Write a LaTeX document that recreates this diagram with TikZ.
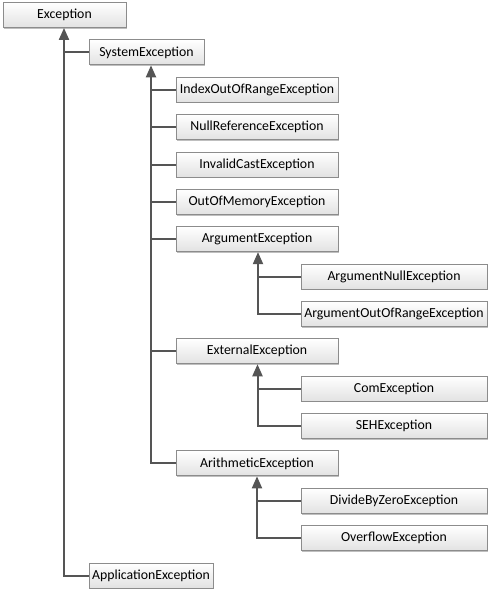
\documentclass[tikz,border=0pt]{standalone}
\usepackage{fontspec}
\setmainfont{Carlito}
\usetikzlibrary{arrows.meta,shadows}
\definecolor{lineclr}{HTML}{555555}
\definecolor{boxborder}{HTML}{8C8C8C}
\definecolor{boxbot}{HTML}{E2E2E2}
\begin{document}
\begin{tikzpicture}[x=1pt,y=-1pt,
  exbox/.style={draw=boxborder, line width=0.9pt, top color=white, bottom color=boxbot,
    minimum height=25pt, inner sep=0pt, font=\fontsize{13.8pt}{16pt}\selectfont,
    drop shadow={shadow xshift=1.2pt, shadow yshift=-1.2pt, opacity=0.25, fill=black}},
  lvlA/.style={exbox, minimum width=162pt},
  lvlB/.style={exbox, minimum width=186pt},
  conn/.style={draw=lineclr, line width=2pt},
  arr/.style={conn, -{Triangle[length=12pt,width=10pt]}}]
\useasboundingbox[fill=white] (0,0) rectangle (490,589);
% nodes
\node[exbox, minimum width=123pt] (exc) at (64.5,15) {Exception};
\node[exbox, minimum width=115pt] (sys) at (146.5,52.4) {SystemException};
\node[lvlA] (idx) at (257,89.7) {IndexOutOfRangeException};
\node[lvlA] (nul) at (257,127.1) {NullReferenceException};
\node[lvlA] (inv) at (257,164.5) {InvalidCastException};
\node[lvlA] (oom) at (257,201.9) {OutOfMemoryException};
\node[lvlA] (arg) at (257,239.2) {ArgumentException};
\node[lvlB] (argn) at (394,276.6) {ArgumentNullException};
\node[lvlB] (argr) at (394,314) {ArgumentOutOfRangeException};
\node[lvlA] (ext) at (257,351.3) {ExternalException};
\node[lvlB] (com) at (394,388.7) {ComException};
\node[lvlB] (seh) at (394,426.1) {SEHException};
\node[lvlA] (ari) at (257,463.4) {ArithmeticException};
\node[lvlB] (div) at (394,500.8) {DivideByZeroException};
\node[lvlB] (ovf) at (394,538.2) {OverflowException};
\node[exbox, minimum width=124pt] (app) at (151,575.5) {ApplicationException};
% anchor coordinates for the vertical trunks
\coordinate (excx) at ([xshift=-0.5pt]exc.south);
\coordinate (sysx) at ([xshift=4.5pt]sys.south);
\coordinate (argx) at ([xshift=1pt]arg.south);
\coordinate (extx) at ([xshift=0.5pt]ext.south);
\coordinate (arix) at ([xshift=0pt]ari.south);
% Exception trunk
\draw[arr] (app.west) -| (excx);
\draw[conn] (sys.west) -- (sys.west -| excx);
% SystemException trunk
\draw[arr] (ari.west) -| (sysx);
\foreach \n in {idx,nul,inv,oom,arg,ext}{\draw[conn] (\n.west) -- (\n.west -| sysx);}
% ArgumentException
\draw[arr] (argr.west) -| (argx);
\draw[conn] (argn.west) -- (argn.west -| argx);
% ExternalException
\draw[arr] (seh.west) -| (extx);
\draw[conn] (com.west) -- (com.west -| extx);
% ArithmeticException
\draw[arr] (ovf.west) -| (arix);
\draw[conn] (div.west) -- (div.west -| arix);
\end{tikzpicture}
\end{document}
